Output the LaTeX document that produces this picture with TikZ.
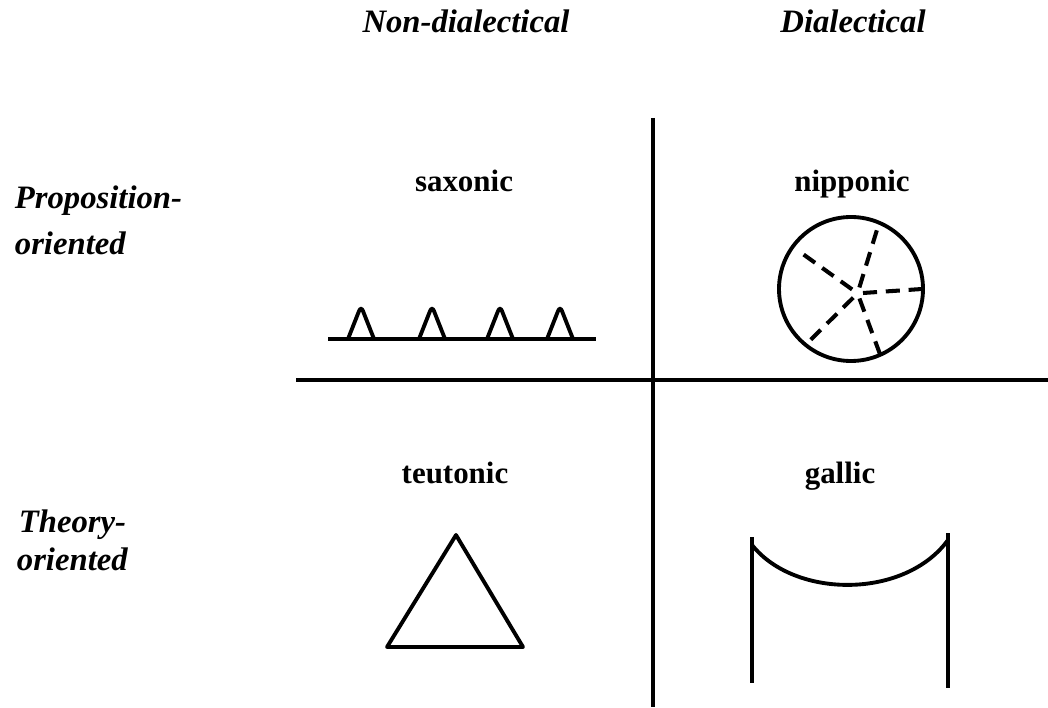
\documentclass[tikz,border=0pt]{standalone}
\usepackage{fontspec}
\setmainfont{Liberation Serif}
\usetikzlibrary{calc}

\begin{document}
\begin{tikzpicture}[line width=2.2pt,
  head/.style={font=\fontsize{18.6}{22}\selectfont\bfseries\itshape,inner sep=0pt,anchor=base},
  side/.style={head,anchor=base west},
  kind/.style={font=\fontsize{17.6}{21}\selectfont\bfseries,inner sep=0pt,anchor=base},
  spoke/.style={line width=2.3pt,dash pattern=on 8pt off 5pt}]
  \useasboundingbox (0,0) rectangle (20.96,14.14);
  % axes
  \draw (13.06,11.78) -- (13.06,0);
  \draw (5.92,6.54) -- (20.96,6.54);
  % column and row heads
  \node[head] (nondial) at (9.32,13.48) {Non-dialectical};
  \node[head] (dial) at (17.06,13.48) {Dialectical};
  \node[side] (prop) at (0.26,9.96) {Proposition-};
  \node[side] (propor) at (0.26,9.04) {oriented};
  \node[side] (theory) at (0.34,3.50) {Theory-};
  \node[side] (theoror) at (0.30,2.74) {oriented};
  % the four styles
  \node[kind] (saxonic) at (9.28,10.30) {saxonic};
  \node[kind] (nipponic) at (17.04,10.30) {nipponic};
  \node[kind] (teutonic) at (9.10,4.48) {teutonic};
  \node[kind] (gallic) at (16.80,4.48) {gallic};
  % saxonic: row of small peaks
  \draw (6.56,7.36) -- (11.92,7.36);
  \foreach \x in {7.22,8.64,10.0,11.2}
    \draw[rounded corners=3pt] (\x-0.26,7.36) -- (\x,8.02) -- (\x+0.26,7.36);
  % nipponic: circle with dashed spokes
  \coordinate (rim) at (17.02,8.36);
  \draw (rim) circle (1.44);
  \coordinate (hub) at (17.14,8.28);
  \foreach \a/\r in {144/1.22,67/1.44,0/1.42,231/1.40,294/1.42}
    \draw[spoke] ($(hub)+(\a:0.12)$) -- ($(rim)+(\a:\r)$);
  % teutonic: triangle
  \draw[line join=round] (9.12,3.44) -- (7.74,1.20) -- (10.46,1.20) -- cycle;
  % gallic: two posts with a sagging rope
  \draw (15.04,3.40) -- (15.04,0.48);
  \draw (18.96,3.48) -- (18.96,0.38);
  \draw (15.04,3.24) .. controls (15.9,2.16) and (18.1,2.16) .. (18.96,3.34);
\end{tikzpicture}
\end{document}
